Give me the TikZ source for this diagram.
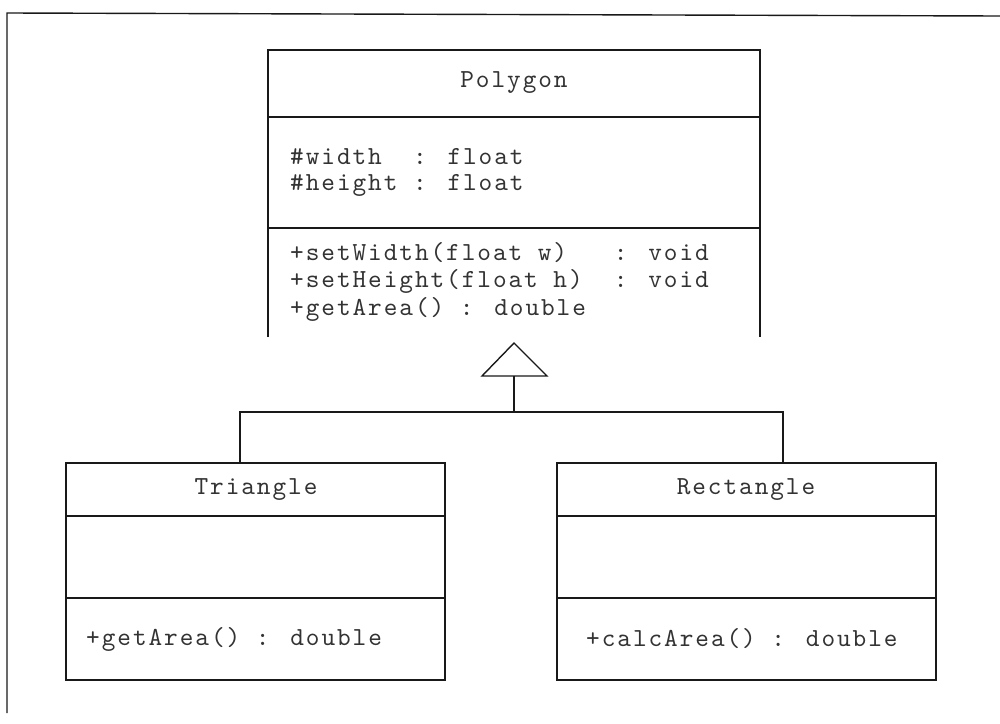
\documentclass[tikz,border=0pt]{standalone}
\usepackage{fontspec}
\newfontfamily\umlfont[LetterSpace=7.5]{lmmono10-regular.otf}
\begin{document}
\begin{tikzpicture}[x=1pt,y=-1pt,
  ln/.style={draw=black!90,line width=1.4pt},
  cls/.style={ln,rectangle,inner sep=0pt},
  txt/.style={font=\umlfont\fontsize{26}{28}\selectfont,text=black!80,inner sep=0pt},
  ltxt/.style={txt,anchor=west}]
\useasboundingbox (0,0) rectangle (1000,723);
% outer frame
\coordinate (fr1) at (1000,16);
\coordinate (fr2) at (7,13);
\coordinate (fr3) at (7,713);
\draw[ln] (fr1) -- (fr2) -- (fr3);
% Polygon class (open at the bottom)
\coordinate (pbl) at (268,337);
\coordinate (ptl) at (268,50);
\coordinate (ptr) at (760,50);
\coordinate (pbr) at (760,337);
\draw[ln] (pbl) -- (ptl) -- (ptr) -- (pbr);
\draw[ln] (268,117) -- (760,117);
\draw[ln] (268,228) -- (760,228);
\node[txt] (pname) at (514,83) {Polygon};
\node[ltxt] (pa1) at (290,157) {\#width~~: float};
\node[ltxt] (pa2) at (290,185) {\#height : float};
\node[ltxt] (pm1) at (290,253) {+setWidth(float w)~~~: void};
\node[ltxt] (pm2) at (290,281) {+setHeight(float h)~~: void};
\node[ltxt] (pm3) at (290,309) {+getArea() : double};
% Triangle class
\node[cls,minimum width=379pt,minimum height=217pt] (tri) at (255.5,571.5) {};
\draw[ln] (66,516) -- (445,516);
\draw[ln] (66,598) -- (445,598);
\node[txt] (tname) at (256,490) {Triangle};
\node[ltxt] (tm1) at (86,639) {+getArea() : double};
% Rectangle class
\node[cls,minimum width=379pt,minimum height=217pt] (rect) at (746.5,571.5) {};
\draw[ln] (557,516) -- (936,516);
\draw[ln] (557,598) -- (936,598);
\node[txt] (rname) at (746,490) {Rectangle};
\node[ltxt] (rm1) at (586,639) {+calcArea() : double};
% generalization
\coordinate (apex) at (514,343);
\coordinate (bl) at (482,376);
\coordinate (br) at (547,376);
\coordinate (bm) at (514,376);
\coordinate (junc) at (514,412);
\coordinate (tritop) at (240,463);
\coordinate (recttop) at (783,463);
\draw[ln,fill=white] (apex) -- (bl) -- (br) -- cycle;
\draw[ln] (bm) -- (junc);
\draw[ln] (tritop) |- (junc) -| (recttop);
\end{tikzpicture}
\end{document}
